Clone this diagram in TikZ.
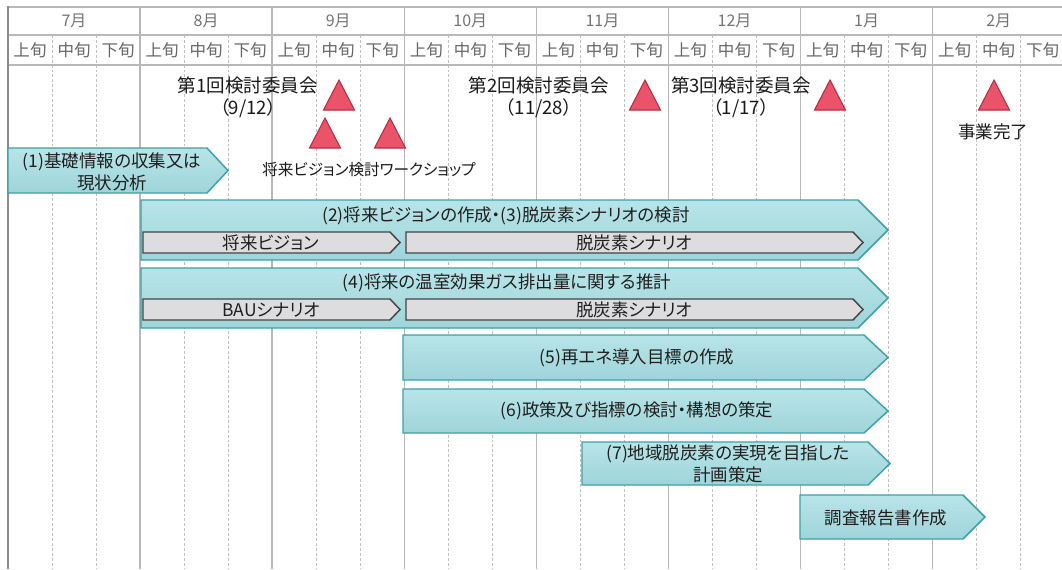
\documentclass[tikz,border=0pt]{standalone}
\usepackage{fontspec}
\setmainfont{Noto Sans CJK JP}[RawFeature={+palt}]
\definecolor{tealtop}{RGB}{184,228,232}
\definecolor{tealbot}{RGB}{158,213,218}
\definecolor{tealedge}{RGB}{62,160,165}
\definecolor{trifill}{RGB}{233,84,107}
\definecolor{triedge}{RGB}{185,45,65}
\definecolor{grayfill}{RGB}{221,221,223}
\definecolor{grayedge}{RGB}{68,68,70}
\begin{document}
\begin{tikzpicture}[x=0.75pt,y=-0.75pt,
  monthline/.style={draw=black!28,line width=1.1pt},
  decline/.style={draw=black!25,line width=0.6pt,dash pattern=on 2.2pt off 1.5pt},
  hline/.style={draw=black!28,line width=1.1pt},
  border/.style={draw=black!45,line width=1.8pt},
  monthlbl/.style={inner sep=0pt,text=black!55,font=\fontsize{12}{13}\selectfont},
  declbl/.style={inner sep=0pt,text=black!60,font=\fontsize{12.4}{14}\selectfont},
  tealbar/.style={draw=tealedge,line width=1.1pt,top color=tealtop,bottom color=tealbot},
  graybar/.style={draw=grayedge,line width=1.1pt,fill=grayfill},
  bartext/.style={inner sep=0pt,text=black!88,align=center,font=\fontsize{13.1}{16.5}\selectfont},
  comlbl/.style={inner sep=0pt,text=black!90,align=center,font=\fontsize{13.9}{16.5}\selectfont},
  smalllbl/.style={inner sep=0pt,text=black!90,font=\fontsize{11.7}{16}\selectfont},
  donelbl/.style={inner sep=0pt,text=black!90,font=\fontsize{13.1}{16}\selectfont},
  tri/.style={fill=trifill,draw=triedge,line width=0.8pt}
]
\useasboundingbox (0,0) rectangle (1062,569);
\fill[white] (0,0) rectangle (1062,569);
\newcommand{\chev}[6]{\path[#1] (#2,#3) -- ({#4-#6},#3) -- (#4,{(#3+#5)/2}) -- ({#4-#6},#5) -- (#2,#5) -- cycle;}
\newcommand{\milestone}[2]{\path[tri] ({#1-15.5},{#2}) -- (#1,{#2-30}) -- ({#1+15.5},{#2}) -- cycle;}
% grid
\foreach \j in {1,...,23}{
  \pgfmathtruncatemacro\m{mod(\j,3)}
  \pgfmathsetmacro\xx{8+44.03*\j}
  \ifnum\m=0
    \path[monthline] (\xx,7) -- (\xx,569);
  \else
    \path[decline] (\xx,35) -- (\xx,569);
  \fi
}
\path[hline] (8,7) -- (1062,7);
\path[hline] (8,35) -- (1062,35);
\path[hline] (8,65) -- (1062,65);
\path[border] (8,6) -- (8,569);
% month labels
\foreach \mn [count=\i from 0] in {7月,8月,9月,10月,11月,12月,1月,2月}{
  \node[monthlbl] (m\i) at ({8+132.1*(\i+0.5)},21) {\mn};
}
\foreach \j in {0,...,23}{
  \pgfmathtruncatemacro\m{mod(\j,3)}
  \ifcase\m \def\dl{上旬}\or \def\dl{中旬}\or \def\dl{下旬}\fi
  \node[declbl] (d\j) at ({8+44.03*(\j+0.5)},50) {\dl};
}
% milestones
\milestone{339}{110}
\milestone{325}{148}
\milestone{390}{148}
\milestone{645}{110}
\milestone{830}{110}
\milestone{994}{110}
\node[comlbl] (c1) at (248,97) {第1回検討委員会\\（9/12）};
\node[comlbl] (c2) at (539,97) {第2回検討委員会\\（11/28）};
\node[comlbl] (c3) at (741,97) {第3回検討委員会\\（1/17）};
\node[smalllbl] (ws) at (369,170) {将来ビジョン検討ワークショップ};
\node[donelbl] (done) at (993,132) {事業完了};
% bars
\chev{tealbar}{8}{148}{228}{193}{21}
\node[bartext] (b1) at (112,172) {(1)基礎情報の収集又は\\現状分析};
\chev{tealbar}{141}{200}{888}{260}{30}
\node[bartext] (b2) at (506,216) {(2)将来ビジョンの作成・(3)脱炭素シナリオの検討};
\chev{graybar}{143}{232}{400}{253}{10}
\node[bartext] (g1) at (271,243) {将来ビジョン};
\chev{graybar}{406}{232}{863}{253}{10}
\node[bartext] (g2) at (634,243) {脱炭素シナリオ};
\chev{tealbar}{141}{268}{888}{328}{30}
\node[bartext] (b4) at (507,283) {(4)将来の温室効果ガス排出量に関する推計};
\chev{graybar}{143}{299}{400}{320}{10}
\node[bartext] (g3) at (271,310) {BAUシナリオ};
\chev{graybar}{406}{299}{863}{320}{10}
\node[bartext] (g4) at (634,310) {脱炭素シナリオ};
\chev{tealbar}{403}{335}{888}{380}{24}
\node[bartext] (b5) at (637,358) {(5)再エネ導入目標の作成};
\chev{tealbar}{403}{389}{888}{433}{24}
\node[bartext] (b6) at (637,411) {(6)政策及び指標の検討・構想の策定};
\chev{tealbar}{582}{442}{890}{485}{22}
\node[bartext] (b7) at (728,464) {(7)地域脱炭素の実現を目指した\\計画策定};
\chev{tealbar}{800}{495}{985}{539}{22}
\node[bartext] (b8) at (886,518) {調査報告書作成};
\end{tikzpicture}
\end{document}
